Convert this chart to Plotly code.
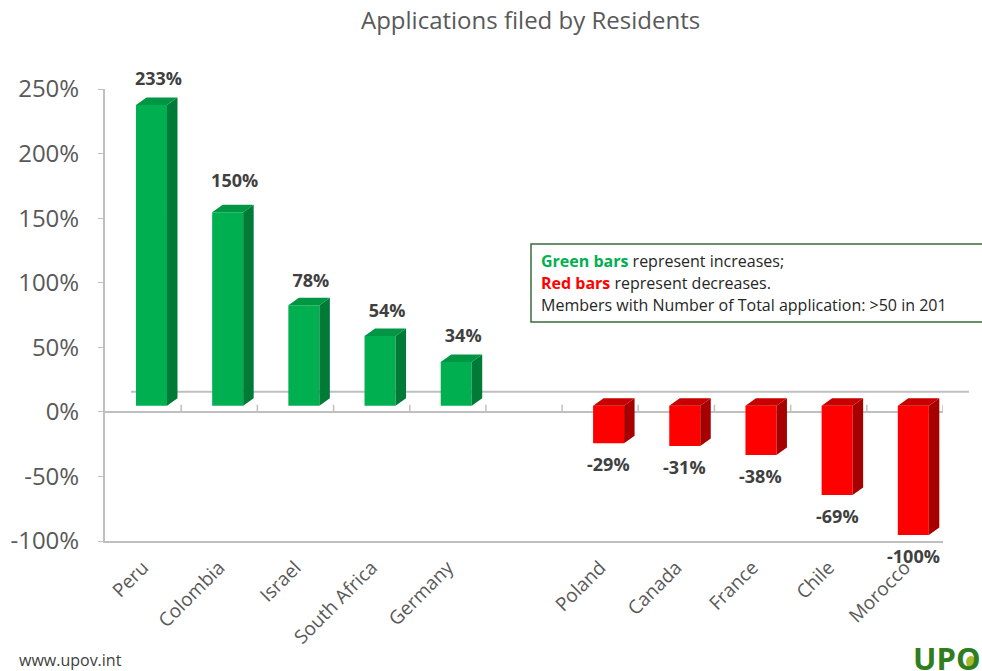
import plotly.graph_objects as go

green_names = ["Peru", "Colombia", "Israel", "South Africa", "Germany"]
green_values = [233, 150, 78, 54, 34]
green_slots = [0, 1, 2, 3, 4]
red_names = ["Poland", "Canada", "France", "Chile", "Morocco"]
red_values = [-29, -31, -38, -69, -100]
red_slots = [6, 7, 8, 9, 10]
y_ticks = [-100, -50, 0, 50, 100, 150, 200, 250]

W, H = 982, 671
L, R, T, B = 105, 943, 89, 541
PX_X = (R - L) / 11
PX_Y = (B - T) / 350
FLOOR = 6 / PX_Y
WALL = 20 / PX_Y
BAR_W = 31 / PX_X
SHIFT = 8.4 / PX_X
DX = 10.5 / PX_X
DY = 7.5 / PX_Y
GRAY = "#595959"
AXIS = "#bfbfbf"
FONT = "Open Sans, sans-serif"
green_label_lift = [4, 9, 2, 3, 4]


def px(x):
    return (x - L) / (R - L)


def py(y):
    return (B - y) / (B - T)


def polys(slots, values):
    side_x, side_y, top_x, top_y = [], [], [], []
    for s, v in zip(slots, values):
        x0 = s + SHIFT - BAR_W / 2
        x1 = s + SHIFT + BAR_W / 2
        hi = FLOOR + max(v, 0)
        lo = FLOOR + min(v, 0)
        side_x += [x1, x1 + DX, x1 + DX, x1, x1, None]
        side_y += [lo, lo + DY, hi + DY, hi, lo, None]
        top_x += [x0, x0 + DX, x1 + DX, x1, x0, None]
        top_y += [hi, hi + DY, hi + DY, hi, hi, None]
    return side_x, side_y, top_x, top_y


fig = go.Figure()
for slots, values, front, side, top in [
    (green_slots, green_values, "#00b050", "#007a37", "#009644"),
    (red_slots, red_values, "#ff0000", "#a60000", "#c80000"),
]:
    fig.add_trace(go.Bar(
        x=[s + SHIFT for s in slots], y=values, base=FLOOR, width=BAR_W,
        marker=dict(color=front, line=dict(width=0)), hoverinfo="skip",
    ))
    sx, sy, tx, ty = polys(slots, values)
    for xs, ys, c in [(sx, sy, side), (tx, ty, top)]:
        fig.add_trace(go.Scatter(
            x=xs, y=ys, mode="lines", fill="toself", fillcolor=c,
            line=dict(width=0, color=c), hoverinfo="skip",
        ))

label_font = dict(family=FONT, size=18, color="#404040", weight="bold")
fig.add_trace(go.Scatter(
    x=[s + SHIFT + 7 / PX_X for s in green_slots],
    y=[FLOOR + v + DY + (4 + lift) / PX_Y for v, lift in zip(green_values, green_label_lift)],
    mode="text", text=[f"{v}%" for v in green_values], textposition="top center",
    textfont=label_font, hoverinfo="skip", cliponaxis=False,
))

slots_all = green_slots + red_slots
names_all = green_names + red_names

shapes = [
    dict(type="line", xref="paper", yref="y", x0=px(131), x1=px(969), y0=WALL, y1=WALL,
         line=dict(color=AXIS, width=2), layer="below"),
    dict(type="rect", xref="paper", yref="paper", x0=px(531), x1=px(990), y0=py(322), y1=py(244),
         line=dict(color="#3b6b3a", width=1.5), fillcolor="white", layer="above"),
    dict(type="circle", xref="paper", yref="paper", x0=px(966), x1=px(976), y0=py(668), y1=py(656),
         line=dict(width=0), fillcolor="#a9b92e", layer="above"),
]
for edge in range(1, 12):
    shapes.append(dict(type="line", xref="x", yref="y", x0=edge - 0.5, x1=edge - 0.5,
                       y0=0, y1=5.5, line=dict(color=AXIS, width=1.5), layer="below"))

annotations = [
    dict(text="Applications filed by Residents", xref="paper", yref="paper", x=px(530), y=py(19),
         showarrow=False, xanchor="center", yanchor="middle", font=dict(family=FONT, size=24, color=GRAY)),
    dict(text='<b><span style="color:#00b050">Green bars</span></b> represent increases;',
         xref="paper", yref="paper", x=px(539), y=py(261), showarrow=False, xanchor="left", yanchor="middle",
         font=dict(family=FONT, size=16, color="#262626")),
    dict(text='<b><span style="color:#ff0000">Red bars</span></b> represent decreases.',
         xref="paper", yref="paper", x=px(539), y=py(283), showarrow=False, xanchor="left", yanchor="middle",
         font=dict(family=FONT, size=16, color="#262626")),
    dict(text="Members with Number of Total application: >50 in 201",
         xref="paper", yref="paper", x=px(539), y=py(305), showarrow=False, xanchor="left", yanchor="middle",
         font=dict(family=FONT, size=16, color="#262626")),
    dict(text="www.upov.int", xref="paper", yref="paper", x=px(17), y=py(660), showarrow=False,
         xanchor="left", yanchor="middle", font=dict(family=FONT, size=16, color="#404040")),
    dict(text="<b>UPO</b>", xref="paper", yref="paper", x=px(911), y=py(658), showarrow=False,
         xanchor="left", yanchor="middle", font=dict(family=FONT, size=31, color="#2f7d1f")),
]
for s, v in zip(red_slots, red_values):
    annotations.append(dict(
        text=f"<b>{v}%</b>", x=s + SHIFT, y=FLOOR + v, xref="x", yref="y", yshift=-7,
        showarrow=False, xanchor="center", yanchor="top",
        font=dict(family=FONT, size=18, color="#404040"),
    ))

fig.update_layout(
    width=W, height=H,
    margin=dict(l=L, r=W - R, t=T, b=H - B, autoexpand=False),
    paper_bgcolor="white", plot_bgcolor="white",
    showlegend=False, barmode="overlay",
    shapes=shapes, annotations=annotations,
    xaxis=dict(
        range=[-0.5, 10.5], tickmode="array", tickvals=slots_all, ticktext=names_all,
        tickangle=-45, tickfont=dict(family=FONT, size=19, color=GRAY),
        showline=True, linecolor=AXIS, linewidth=2, ticks="", showgrid=False, zeroline=False,
        ticklabelstandoff=6,
    ),
    yaxis=dict(
        range=[-100, 250], tickmode="array", tickvals=y_ticks, ticktext=[f"{v}%" for v in y_ticks],
        tickfont=dict(family=FONT, size=24, color=GRAY),
        showline=True, linecolor=AXIS, linewidth=2, ticks="outside", ticklen=5, tickcolor=AXIS,
        showgrid=False, zeroline=True, zerolinecolor=AXIS, zerolinewidth=2, ticklabelstandoff=14,
    ),
)
fig.write_html("out.html", config={"displayModeBar": False},
               post_script="document.body.style.margin='0';")
